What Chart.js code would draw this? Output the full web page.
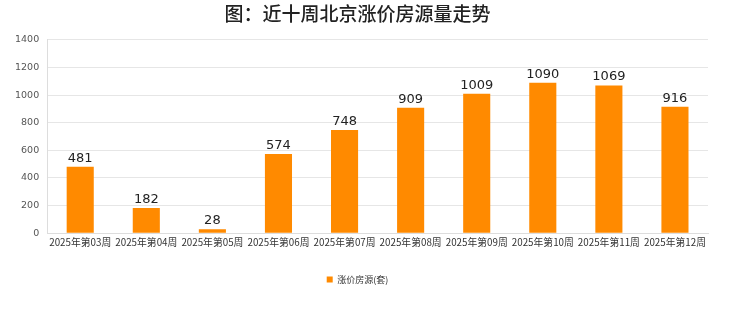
<!DOCTYPE html>
<html>
<head>
<meta charset="utf-8">
<script src="https://cdn.jsdelivr.net/npm/chart.js@4"></script>
<style>
  html, body { margin: 0; padding: 0; background: #fff; }
  #wrap { width: 740px; height: 312px; }
</style>
</head>
<body>
<div id="wrap"><canvas id="chart" width="740" height="312"></canvas></div>
<script>
// 数据
const weeks = ['2025年第03周', '2025年第04周', '2025年第05周', '2025年第06周', '2025年第07周',
    '2025年第08周', '2025年第09周', '2025年第10周', '2025年第11周', '2025年第12周'];
const rises = [481, 182, 28, 574, 748, 909, 1009, 1090, 1069, 916];
const yTicks = [0, 200, 400, 600, 800, 1000, 1200, 1400];

const FONT = '"Noto Sans CJK SC", "DejaVu Sans", sans-serif';

// 柱顶数值
const valueLabels = {
    id: 'valueLabels',
    afterDatasetsDraw(chart) {
        const ctx = chart.ctx;
        const meta = chart.getDatasetMeta(0);
        ctx.save();
        ctx.font = '13px "DejaVu Sans", sans-serif';
        ctx.fillStyle = '#222';
        ctx.textAlign = 'center';
        ctx.textBaseline = 'bottom';
        meta.data.forEach((bar, i) => {
            ctx.fillText(String(rises[i]), bar.x, bar.y - 2);
        });
        ctx.restore();
    }
};

new Chart(document.getElementById('chart'), {
    type: 'bar',
    data: {
        labels: weeks,
        datasets: [{
            label: '涨价房源(套)',
            data: rises,
            backgroundColor: '#ff8a00',
            barPercentage: 0.41,
            categoryPercentage: 1
        }]
    },
    options: {
        responsive: false,
        animation: false,
        layout: { padding: { left: 7, right: 32, top: 0, bottom: 18 } },
        plugins: {
            title: {
                display: true,
                text: '图：近十周北京涨价房源量走势',
                color: '#222',
                font: { family: FONT, size: 19, weight: '500' },
                padding: { top: 2, bottom: 15 }
            },
            legend: {
                position: 'bottom',
                labels: {
                    color: '#333',
                    font: { family: FONT, size: 9 },
                    boxWidth: 6,
                    boxHeight: 6,
                    padding: 24
                }
            },
            tooltip: { enabled: false }
        },
        scales: {
            x: {
                grid: { display: false, drawTicks: false },
                border: { color: '#ddd' },
                ticks: {
                    color: '#333',
                    font: { family: FONT, size: 9.8 },
                    maxRotation: 0,
                    autoSkip: false,
                    padding: 3
                }
            },
            y: {
                min: 0,
                max: 1400,
                afterBuildTicks(axis) {
                    axis.ticks = yTicks.map(v => ({ value: v }));
                },
                grid: { color: '#e6e6e6', drawTicks: false },
                border: { color: '#ddd' },
                ticks: {
                    color: '#555',
                    font: { family: '"DejaVu Sans", sans-serif', size: 9.5 },
                    padding: 8,
                    callback: v => String(v)
                }
            }
        }
    },
    plugins: [valueLabels]
});
</script>
</body>
</html>
